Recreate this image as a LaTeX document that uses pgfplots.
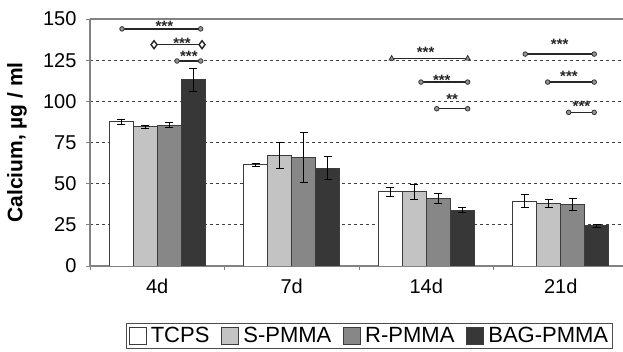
\documentclass[border=0pt]{standalone}
\usepackage{pgfplots}
\pgfplotsset{compat=1.18}
\usepackage{fontspec}
\setmainfont{Liberation Sans}
\definecolor{cS}{RGB}{195,195,195}
\definecolor{cR}{RGB}{135,135,135}
\definecolor{cB}{RGB}{55,55,55}
\definecolor{cEdge}{RGB}{60,60,60}
\definecolor{cAxis}{RGB}{130,130,130}
\definecolor{cMark}{RGB}{150,150,150}
\pgfplotsset{
  barpatch/.style={legend image code/.code={\draw[##1] (0pt,-8.5pt) rectangle (17pt,8.5pt);}},
  barsty/.style={ybar, bar width=0.178, bar shift=0pt, draw=cEdge, line width=0.9pt, barpatch,
    error bars/y dir=both, error bars/y explicit,
    error bars/error mark options={rotate=90, mark size=4pt, black, line width=0.8pt},
    error bars/error bar style={black, line width=0.8pt}},
  bracket/.style={black!85, line width=1.4pt, forget plot, mark options={fill=cMark, draw=black!80, line width=0.8pt}},
}
\tikzset{stars/.style={midway, anchor=base, inner sep=0pt, font=\fontsize{15}{15}\selectfont\bfseries, text=black!85}}
\begin{document}
\begin{tikzpicture}
\begin{axis}[
  at={(0,0)}, anchor=south west,
  scale only axis, width=533pt, height=247pt,
  xmin=-0.5, xmax=3.463, ymin=0, ymax=150,
  axis lines*=left,
  axis line style={cAxis, line width=1.2pt},
  ytick={0,25,...,150},
  xtick={-0.5,0.5,1.5,2.5}, xticklabels={},
  extra x ticks={0,1,2,3},
  extra x tick labels={4d,7d,14d,21d},
  extra x tick style={major tick length=0pt, tick label style={yshift=-9pt}},
  tick align=outside, major tick length=4pt,
  tick style={cAxis, line width=0.8pt},
  ymajorgrids,
  grid style={black!75, dash pattern=on 3pt off 3pt, line width=0.8pt},
  /pgf/number format/assume math mode=true,
  tick label style={font=\fontsize{20}{24}\selectfont},
  yticklabel style={xshift=-6pt},
  every axis y label/.style={at={(axis description cs:-0.137,0.5)}, rotate=90, anchor=center},
  ylabel={\bfseries Calcium, µg / ml},
  label style={font=\fontsize{21}{24}\selectfont},
  legend style={at={(axis description cs:0.5244,-0.2308)}, anchor=north,
    legend columns=-1, draw=black!70, line width=1pt,
    font=\fontsize{22}{26}\selectfont, inner sep=2pt,
    /tikz/every odd column/.append style={column sep=2pt},
    /tikz/every even column/.append style={column sep=10pt}},
]
\addplot[barsty, fill=white]
  coordinates {(-0.267,87.5)+-(0,1.5) (0.733,61.5)+-(0,0.8) (1.733,45)+-(0,2.5) (2.733,39.5)+-(0,4)};
\addplot[barsty, fill=cS]
  coordinates {(-0.089,84.5)+-(0,0.7) (0.911,67)+-(0,8) (1.911,45)+-(0,4.5) (2.911,38)+-(0,2.5)};
\addplot[barsty, fill=cR]
  coordinates {(0.089,85.5)+-(0,1.5) (1.089,66)+-(0,15) (2.089,41)+-(0,3) (3.089,37.5)+-(0,3.5)};
\addplot[barsty, fill=cB]
  coordinates {(0.267,113)+-(0,7) (1.267,59.5)+-(0,7) (2.267,34)+-(0,1.5) (3.267,24.5)+-(0,1)};
\legend{TCPS,S-PMMA,R-PMMA,BAG-PMMA}
% significance brackets
\addplot[bracket, mark=*, mark size=2.3pt] coordinates {(-0.262,144) (0.323,144)}
  node[stars, xshift=3pt, yshift=-2.9pt] {***};
\addplot[bracket, mark=diamond*, mark size=4pt, mark options={fill=white}] coordinates {(-0.024,134.4) (0.333,134.4)}
  node[stars, xshift=4pt, yshift=-3.9pt] {***};
\addplot[bracket, mark=*, mark size=2.3pt] coordinates {(0.147,124.5) (0.323,124.5)}
  node[stars, yshift=-0.6pt] {***};
\addplot[bracket, mark=triangle*, mark size=3pt] coordinates {(1.743,126) (2.308,126)}
  node[stars, xshift=-4pt, yshift=0.7pt] {***};
\addplot[bracket, mark=*, mark size=2.3pt] coordinates {(1.961,111.7) (2.308,111.7)}
  node[stars, xshift=-2.5pt, yshift=-3.6pt] {***};
\addplot[bracket, mark=*, mark size=2.3pt] coordinates {(2.078,95.5) (2.308,95.5)}
  node[stars, yshift=4.1pt] {**};
\addplot[bracket, mark=*, mark size=2.3pt] coordinates {(2.736,128.7) (3.249,128.7)}
  node[stars, yshift=4.4pt] {***};
\addplot[bracket, mark=*, mark size=2.3pt] coordinates {(2.903,111.7) (3.249,111.7)}
  node[stars, xshift=-2pt, yshift=0.4pt] {***};
\addplot[bracket, mark=*, mark size=2.3pt] coordinates {(3.059,93.3) (3.249,93.3)}
  node[stars, yshift=1pt] {***};
\draw[cAxis, line width=1.2pt] (rel axis cs:0,1) -- (rel axis cs:1,1);
\end{axis}
\pgfresetboundingbox
\path[use as bounding box] (-90pt,-86pt) rectangle (533pt,266pt);
\end{tikzpicture}
\end{document}
